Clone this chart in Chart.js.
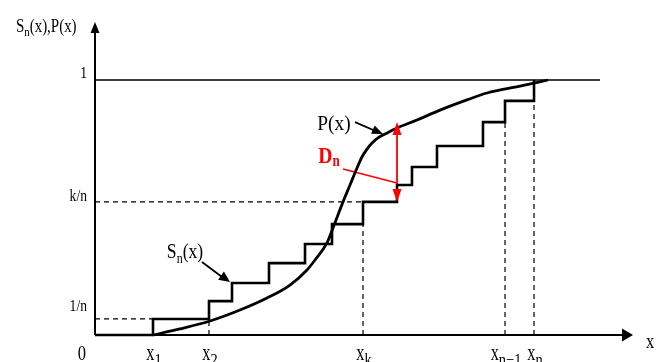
<!DOCTYPE html>
<html><head><meta charset="utf-8">
<script src="https://cdn.jsdelivr.net/npm/chart.js@4.4.1/dist/chart.umd.min.js"></script>
<style>html,body{margin:0;padding:0;background:#fff}canvas{display:block}</style>
</head><body>
<canvas id="c" width="660" height="362"></canvas>
<script>
// ---- data ----
// sample points x_i (where the empirical step function jumps)
const sampleX = [1.074, 2.111, 2.537, 3.222, 3.889, 4.389, 4.963, 5.593, 5.870, 6.333, 7.185, 7.593, 8.130];
// level of S_n(x) right after each jump
const stepLevels = [0.063, 0.133, 0.204, 0.282, 0.357, 0.435, 0.522, 0.588, 0.659, 0.741, 0.835, 0.918, 1.000];
// theoretical distribution P(x)
const curveX = [1.074, 1.574, 2.130, 2.685, 3.185, 3.611, 3.926, 4.074, 4.296, 4.407, 4.593, 4.722, 4.852, 4.944, 5.037, 5.130, 5.241, 5.370, 5.593, 5.963, 6.389, 6.889, 7.259, 7.870, 8.389];
const curveP = [0.000, 0.024, 0.055, 0.098, 0.145, 0.196, 0.255, 0.294, 0.361, 0.420, 0.522, 0.588, 0.655, 0.698, 0.729, 0.753, 0.773, 0.788, 0.812, 0.843, 0.882, 0.922, 0.949, 0.976, 1.000];
// labelled sample indices and their names
const xTickIndex = [0, 1, 6, 11, 12];
const xTickMain = ['x', 'x', 'x', 'x', 'x'];
const xTickSub = ['1', '2', 'k', 'n\u22121', 'n'];
// y labels
const yTickValues = [stepLevels[0], stepLevels[6], 1];
const yTickLabels = ['1/n', 'k/n', '1'];
const dnTop = 0.835;     // top of the D_n arrow (on P(x))
const unityEnd = 9.352;  // end of the y = 1 line
const xAxisEnd = 9.963;  // tip of x-axis arrow
const yAxisEnd = 1.227;  // tip of y-axis arrow

// ---- scales (whole canvas is the chart area) ----
const X_MIN = -95 / 54, X_MAX = 565 / 54;
const Y_MIN = -27 / 255, Y_MAX = 335 / 255;

// step function vertices built from the arrays
const stepPts = [{x: 0, y: 0}];
let prev = 0;
sampleX.forEach((xv, i) => { stepPts.push({x: xv, y: prev}); stepPts.push({x: xv, y: stepLevels[i]}); prev = stepLevels[i]; });
const curvePts = curveX.map((xv, i) => ({x: xv, y: curveP[i]}));

const dashed = {borderColor: '#000', borderWidth: 1.2, borderDash: [5, 4], pointRadius: 0, fill: false};
const datasets = [];
// horizontal dashed guides 1/n and k/n
[0, 6].forEach(i => datasets.push(Object.assign({data: [{x: 0, y: stepLevels[i]}, {x: sampleX[i], y: stepLevels[i]}]}, dashed)));
// vertical dashed guides
[1, 6, 11, 12].forEach(i => datasets.push(Object.assign({data: [{x: sampleX[i], y: 0}, {x: sampleX[i], y: stepLevels[i - 1]}]}, dashed)));
// unity line
datasets.push({data: [{x: 0, y: 1}, {x: unityEnd, y: 1}], borderColor: '#000', borderWidth: 1.4, pointRadius: 0});
// axes
datasets.push({data: [{x: 0, y: 0}, {x: xAxisEnd - 0.2, y: 0}], borderColor: '#000', borderWidth: 2, pointRadius: 0});
datasets.push({data: [{x: 0, y: 0}, {x: 0, y: yAxisEnd - 0.04}], borderColor: '#000', borderWidth: 2, pointRadius: 0});
// S_n(x)
datasets.push({data: stepPts, borderColor: '#000', borderWidth: 2.6, pointRadius: 0, borderJoinStyle: 'miter', borderCapStyle: 'butt'});
// P(x)
datasets.push({data: curvePts, borderColor: '#000', borderWidth: 2.8, pointRadius: 0, cubicInterpolationMode: 'monotone'});
// leader lines
datasets.push({data: [{x: 4.815, y: 0.835}, {x: 5.28, y: 0.792}], borderColor: '#000', borderWidth: 1.8, pointRadius: 0});
datasets.push({data: [{x: 1.981, y: 0.286}, {x: 2.44, y: 0.214}], borderColor: '#000', borderWidth: 1.8, pointRadius: 0});
// D_n
datasets.push({data: [{x: 4.593, y: 0.651}, {x: sampleX[7], y: 0.596}], borderColor: '#ff0000', borderWidth: 1.6, pointRadius: 0});
datasets.push({data: [{x: sampleX[7], y: stepLevels[6] + 0.04}, {x: sampleX[7], y: dnTop - 0.04}], borderColor: '#ff0000', borderWidth: 1.8, pointRadius: 0});

const FONT = '"Liberation Serif", "Times New Roman", serif';
function drawRich(ctx, parts, px, py, align, color, sx) {
  ctx.save();
  ctx.fillStyle = color;
  ctx.textBaseline = 'alphabetic';
  const fontOf = p => (p.bold ? 'bold ' : '') + p.size + 'px ' + FONT;
  const widths = parts.map(p => { ctx.font = fontOf(p); return ctx.measureText(p.t).width * (p.sx || sx); });
  const total = widths.reduce((a, b) => a + b, 0);
  let x = align === 'center' ? px - total / 2 : align === 'right' ? px - total : px;
  parts.forEach((p, i) => {
    ctx.font = fontOf(p);
    ctx.save(); ctx.translate(x, py + (p.dy || 0)); ctx.scale(p.sx || sx, 1); ctx.fillText(p.t, 0, 0); ctx.restore();
    x += widths[i];
  });
  ctx.restore();
}
function tri(ctx, tip, from, len, hw, color) {
  const dx = tip.x - from.x, dy = tip.y - from.y, d = Math.hypot(dx, dy);
  const ux = dx / d, uy = dy / d;
  const bx = tip.x - ux * len, by = tip.y - uy * len;
  ctx.save(); ctx.fillStyle = color; ctx.beginPath();
  ctx.moveTo(tip.x, tip.y);
  ctx.lineTo(bx - uy * hw, by + ux * hw);
  ctx.lineTo(bx + uy * hw, by - ux * hw);
  ctx.closePath(); ctx.fill(); ctx.restore();
}

const annot = {
  id: 'annot',
  afterDatasetsDraw(chart) {
    const ctx = chart.ctx, xs = chart.scales.x, ys = chart.scales.y;
    const P = (x, y) => ({x: xs.getPixelForValue(x), y: ys.getPixelForValue(y)});
    // arrowheads
    tri(ctx, P(xAxisEnd, 0), P(0, 0), 11, 6.5, '#000');
    tri(ctx, P(0, yAxisEnd), P(0, 0), 11, 4.5, '#000');
    tri(ctx, P(5.333, 0.788), P(4.815, 0.835), 11, 4.5, '#000');
    tri(ctx, P(2.5, 0.208), P(1.981, 0.286), 11, 5, '#000');
    tri(ctx, P(sampleX[7], dnTop), P(sampleX[7], stepLevels[6]), 13, 4.5, '#ff0000');
    tri(ctx, P(sampleX[7], stepLevels[6]), P(sampleX[7], dnTop), 13, 4.5, '#ff0000');
    // x tick labels
    xTickIndex.forEach((idx, k) => {
      const p = P(sampleX[idx], 0);
      drawRich(ctx, [{t: xTickMain[k], size: 24, sx: 0.68}, {t: xTickSub[k], size: 17, dy: 5, sx: 0.85}], p.x + 1, p.y + 25, 'center', '#000', 0.8);
    });
    // y tick labels
    const yOff = [-8, -1, -2];
    yTickValues.forEach((v, k) => {
      const p = P(0, v);
      drawRich(ctx, [{t: yTickLabels[k], size: 17}], p.x - 8, p.y + yOff[k], 'right', '#000', 0.8);
    });
    let p = P(0, 0);
    drawRich(ctx, [{t: '0', size: 22}], p.x - 9, p.y + 25, 'right', '#000', 0.75);
    // axis titles
    p = P(-1.463, 1.188);
    drawRich(ctx, [{t: 'S', size: 18}, {t: 'n', size: 13, dy: 4}, {t: '(x),P(x)', size: 18}], p.x, p.y, 'left', '#000', 0.83);
    p = P(xAxisEnd, 0);
    drawRich(ctx, [{t: 'x', size: 22}], p.x + 13, p.y + 13, 'left', '#000', 0.75);
    // curve labels
    p = P(4.426, 0.804);
    drawRich(ctx, [{t: 'P(x)', size: 22}], p.x, p.y, 'center', '#000', 0.88);
    p = P(1.667, 0.302);
    drawRich(ctx, [{t: 'S', size: 22}, {t: 'n', size: 15, dy: 5}, {t: '(x)', size: 22}], p.x, p.y, 'center', '#000', 0.8);
    p = P(4.333, 0.675);
    drawRich(ctx, [{t: 'D', size: 24, bold: true}, {t: 'n', size: 16, bold: true, dy: 3}], p.x, p.y, 'center', '#ff0000', 0.82);
  }
};

new Chart(document.getElementById('c'), {
  type: 'line',
  data: {datasets: datasets},
  options: {
    responsive: false,
    animation: false,
    layout: {padding: 0},
    plugins: {legend: {display: false}, tooltip: {enabled: false}, title: {display: false}},
    scales: {
      x: {type: 'linear', display: false, min: X_MIN, max: X_MAX},
      y: {type: 'linear', display: false, min: Y_MIN, max: Y_MAX}
    },
    elements: {point: {radius: 0}, line: {tension: 0}}
  },
  plugins: [annot]
});
</script>
</body></html>
